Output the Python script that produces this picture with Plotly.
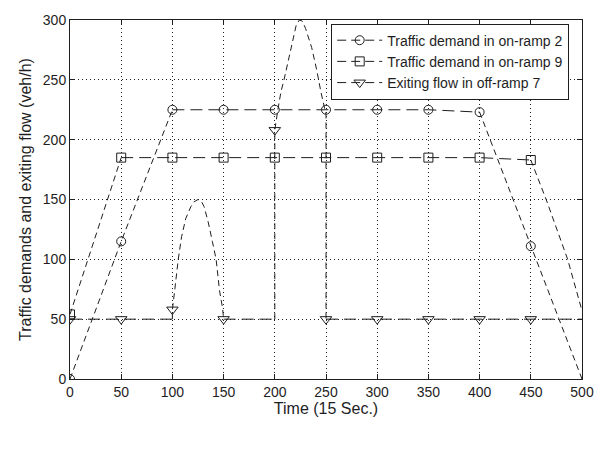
import plotly.graph_objects as go

# ---- data ----
# Traffic demand in on-ramp 2 (circles)
t_ramp2 = [0, 50, 100, 350, 400, 450, 500]
y_ramp2 = [0, 115, 225, 225, 223, 111, 0]
# Traffic demand in on-ramp 9 (squares)
t_ramp9 = [0, 50, 400, 450, 465, 486, 500]
y_ramp9 = [54, 185, 185, 183, 150, 100, 57]
# Exiting flow in off-ramp 7 (triangles)
t_off7 = [0, 100, 100, 102.5, 105.7, 109, 113, 118, 121, 125, 128, 131, 135, 139, 142.7, 146, 149, 150,
          200, 200, 203, 206, 209, 214, 219, 221, 224, 227, 230, 236, 241, 245, 250, 250, 500]
y_off7 = [50, 50, 58, 76, 100, 119, 134, 144, 148, 150, 149, 144, 131, 115, 100, 74, 59, 50,
          50, 208, 225, 240, 250, 270, 290, 296, 300, 299, 293, 277, 258, 240, 221, 50, 50]

# marker positions (every 50 time steps)
t_marks = [0, 50, 100, 150, 200, 250, 300, 350, 400, 450]
m_ramp2 = [0, 115, 225, 225, 225, 225, 225, 225, 223, 111]
m_ramp9 = [54, 185, 185, 185, 185, 185, 185, 185, 185, 183]
m_off7 = [50, 50, 58, 50, 208, 50, 50, 50, 50, 50]

names = ["Traffic demand in on-ramp 2", "Traffic demand in on-ramp 9", "Exiting flow in off-ramp 7"]
x_ticks = [0, 50, 100, 150, 200, 250, 300, 350, 400, 450, 500]
y_ticks = [0, 50, 100, 150, 200, 250, 300]

INK = "#1e1e1e"
LONG = "12px,6px"
SHORT = "6px,4px"
FONT = "Liberation Sans, Arial, sans-serif"

# (index ranges of each series drawn with the long or short dash pattern)
seg_ramp2 = [(0, 2, SHORT), (2, 4, LONG), (4, 6, SHORT)]
seg_ramp9 = [(0, 1, SHORT), (1, 3, LONG), (3, 6, SHORT)]
seg_off7 = [(0, 1, LONG), (1, 17, SHORT), (17, 18, LONG), (18, 33, SHORT), (33, 34, LONG)]

fig = go.Figure()
series = [
    (t_ramp2, y_ramp2, m_ramp2, seg_ramp2, "circle-open", 9),
    (t_ramp9, y_ramp9, m_ramp9, seg_ramp9, "square-open", 9),
    (t_off7, y_off7, m_off7, seg_off7, "triangle-down-open", 10),
]
for (tl, yl, ym, segs, sym, sz), nm in zip(series, names):
    for a, b, dash in segs:
        fig.add_trace(go.Scatter(x=tl[a:b + 1], y=yl[a:b + 1], mode="lines", showlegend=False,
                                 line=dict(color=INK, width=1, dash=dash), hoverinfo="skip"))
    fig.add_trace(go.Scatter(x=t_marks, y=ym, mode="markers", showlegend=False,
                             marker=dict(symbol=sym, size=sz, color=INK, line=dict(width=1, color=INK))))
    # legend entry
    fig.add_trace(go.Scatter(x=[None], y=[None], mode="lines+markers", name=nm,
                             line=dict(color=INK, width=1, dash="9px,5px"),
                             marker=dict(symbol=sym, size=sz, color=INK, line=dict(width=1, color=INK))))

axis_common = dict(
    showline=True, linecolor=INK, linewidth=1, mirror="ticks",
    ticks="inside", ticklen=5, tickcolor=INK, tickwidth=1,
    showgrid=True, gridcolor=INK, gridwidth=1, griddash="1px,3px",
    zeroline=False, tickfont=dict(family=FONT, size=14, color=INK),
    title_font=dict(family=FONT, size=16, color=INK),
)
fig.update_xaxes(range=[0, 500], tickvals=x_ticks, title_text="Time (15 Sec.)",
                 title_standoff=2, **axis_common)
fig.update_yaxes(range=[0, 300], tickvals=y_ticks,
                 title_text="Traffic demands and exiting flow (veh/h)",
                 title_standoff=7, **axis_common)

fig.update_layout(
    width=609, height=464,
    margin=dict(l=70, r=27, t=14, b=85),
    paper_bgcolor="white", plot_bgcolor="white",
    font=dict(family=FONT, size=14, color=INK),
    legend=dict(x=0.975, y=0.99, xanchor="right", yanchor="top",
                bgcolor="white", bordercolor=INK, borderwidth=1,
                font=dict(family=FONT, size=14, color=INK),
                tracegroupgap=0, itemwidth=45),
)

fig.write_html("out.html")
